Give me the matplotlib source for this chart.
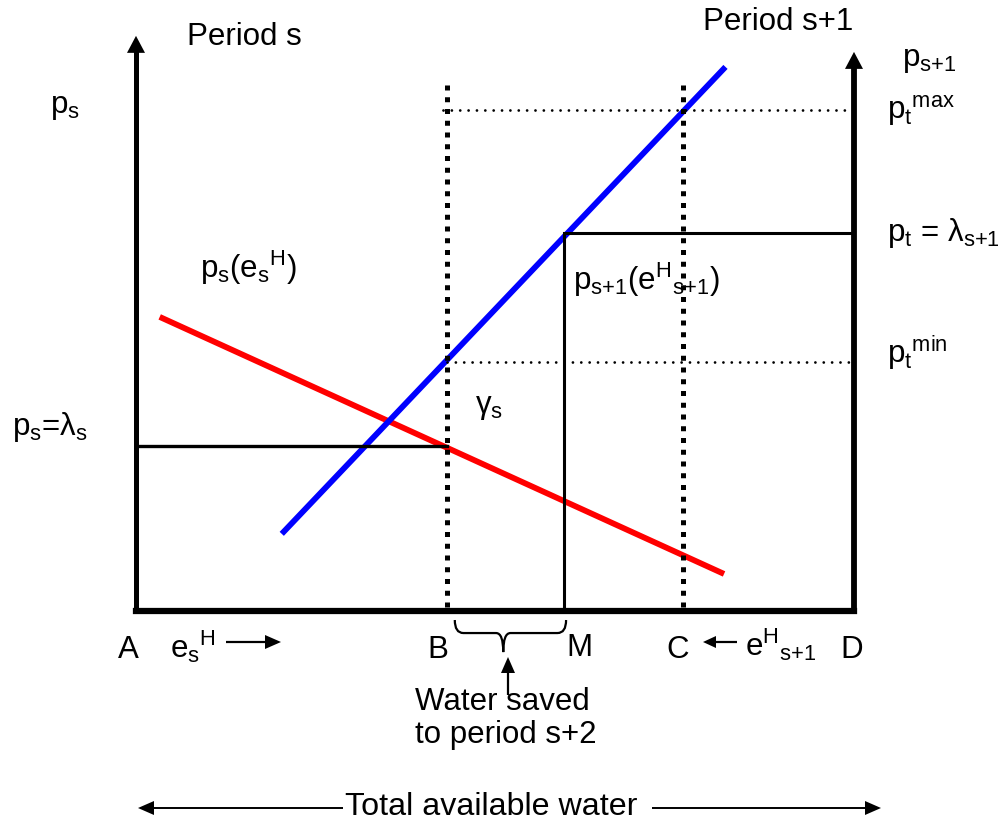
import numpy as np
import matplotlib
matplotlib.use('Agg')
import matplotlib.pyplot as plt
from matplotlib.patches import Polygon, PathPatch
from matplotlib.path import Path
from matplotlib.lines import Line2D
from matplotlib.transforms import IdentityTransform

W, H = 998, 822
plt.rcParams.update({
    'font.family': ['Liberation Sans', 'DejaVu Sans'],
    'mathtext.fontset': 'custom',
    'mathtext.rm': 'Liberation Sans',
    'mathtext.it': 'Liberation Sans',
    'mathtext.bf': 'Liberation Sans:bold',
    'mathtext.default': 'regular',
})

# ---- diagram data (water on x from A to D, price on y) ----
x_A, x_B, x_M, x_C, x_D = 0.0, 43.3, 59.6, 76.2, 100.0
p_max, p_lam_next, p_min, p_lam_s = 100.0, 75.4, 49.7, 32.9
red_x = [3.3, 81.9]     # demand p_s(e_s^H)
red_y = [58.7, 7.4]
blue_x = [20.3, 82.1]   # p_{s+1}(e^H_{s+1})
blue_y = [15.4, 108.6]
left_axis_top = 114.8
right_axis_top = 111.6
dotted_B_top = 105.4
dotted_C_top = 105.0

FS = 22.5

fig = plt.figure(figsize=(W / 100, H / 100), dpi=100)
ax = fig.add_axes([136 / W, 1 - 611 / H, (854 - 136) / W, (611 - 110) / H])
ax.set_xlim(0, 100)
ax.set_ylim(0, 100)
ax.axis('off')


def to_px(x, y):
    d = ax.transData.transform((x, y))
    return d[0], H - d[1]


def arrow_px(x0, y0, x1, y1, lw=1.5, hl=15, hw=7, color='k', zorder=5):
    d = np.array([x1 - x0, y1 - y0], float)
    L = np.hypot(*d)
    u = d / L
    n = np.array([-u[1], u[0]])
    tip = np.array([x1, y1], float)
    base = tip - u * hl
    end = tip - u * hl * 0.5
    fig.add_artist(Line2D([x0, end[0]], [H - y0, H - end[1]], lw=lw, color=color,
                          transform=IdentityTransform(), solid_capstyle='butt', zorder=zorder))
    pts = [tip, base + n * hw, base - n * hw]
    fig.add_artist(Polygon([(p[0], H - p[1]) for p in pts], closed=True, facecolor=color,
                           edgecolor='none', transform=IdentityTransform(), zorder=zorder))


def txt(x, y, s, **kw):
    fig.text(x / W, 1 - y / H, s, fontsize=kw.pop('fontsize', FS), ha=kw.pop('ha', 'left'),
             va=kw.pop('va', 'baseline'), **kw)


# ---- curves ----
ax.plot(red_x, red_y, color='#ff0000', lw=4.2, clip_on=False, zorder=2, solid_capstyle='butt')
ax.plot(blue_x, blue_y, color='#0000ff', lw=4.2, clip_on=False, zorder=2, solid_capstyle='butt')

# ---- axes ----
ax.plot([x_A, x_D], [0, 0], color='k', lw=4.5, solid_capstyle='projecting', clip_on=False, zorder=4)
x0, y0 = to_px(x_A, 0)
x1, y1 = to_px(x_A, left_axis_top)
arrow_px(x0, y0 + 2, x1, y1, lw=3.6, hl=17, hw=9)
x0, y0 = to_px(x_D, 0)
x1, y1 = to_px(x_D, right_axis_top)
arrow_px(x0, y0 + 2, x1, y1, lw=4.2, hl=17, hw=9)

# ---- thick dotted verticals ----
for xv, top in [(x_B, dotted_B_top), (x_C, dotted_C_top)]:
    ax.plot([xv, xv], [0.8, top], color='k', lw=3.6, linestyle=(0, (1, 1.35)),
            dash_capstyle='butt', clip_on=False, zorder=3)

# ---- thin dotted horizontals ----
ax.plot([x_B - 0.6, x_D], [p_max, p_max], color='k', lw=2.0, linestyle=(0, (0.01, 3.0)),
        dash_capstyle='round', clip_on=False, zorder=3)
ax.plot([x_B, x_D], [p_min, p_min], color='k', lw=2.0, linestyle=(0, (0.01, 3.0)),
        dash_capstyle='round', clip_on=False, zorder=3)

# ---- solid black price lines ----
ax.plot([x_A, x_B], [p_lam_s, p_lam_s], color='k', lw=2.4, clip_on=False, zorder=3)
ax.plot([x_D, x_M, x_M], [p_lam_next, p_lam_next, 0], color='k', lw=2.2, clip_on=False, zorder=3,
        solid_joinstyle='miter')

# ---- brace under B..M ----
bl, br = x_B + 1.1, x_M + 0.3
mid = (bl + br) / 2 - 1.0
yt, yh, yp = -1.8, -4.4, -8.2
verts = [(bl, yt), (bl, yh), (bl + 1.2, yh), (mid - 1.0, yh), (mid, yh), (mid, yp),
         (mid, yh), (mid + 1.0, yh), (br - 1.2, yh), (br, yh), (br, yt)]
codes = [Path.MOVETO, Path.CURVE3, Path.CURVE3, Path.LINETO, Path.CURVE3, Path.CURVE3,
         Path.CURVE3, Path.CURVE3, Path.LINETO, Path.CURVE3, Path.CURVE3]
ax.add_patch(PathPatch(Path(verts, codes), facecolor='none', edgecolor='k', lw=1.6, clip_on=False))

# ---- annotation arrows ----
arrow_px(508, 695, 508, 657, lw=1.6, hl=16, hw=7)
arrow_px(226, 642, 281, 642, lw=1.6, hl=16, hw=7)
arrow_px(737, 642, 703, 642, lw=1.6, hl=13, hw=6)
arrow_px(343, 808, 138, 808, lw=1.4, hl=16, hw=7)
arrow_px(652, 808, 881, 808, lw=1.4, hl=16, hw=7)

# ---- texts ----
txt(187, 45, 'Period s')
txt(703, 30, 'Period s+1')
txt(50, 113, r'$p_s$')
txt(902, 66, r'$p_{s{+}1}$')
txt(887, 119, r'$p_t{}^{max}$')
txt(887, 241, r'$p_t$ = $λ_{s{+}1}$')
txt(887, 363, r'$p_t{}^{min}$')
txt(200, 278, r'$p_s(e_s{}^H)$')
txt(573, 290, r'$p_{s{+}1}(e^H{}_{s{+}1})$')
txt(12, 435, r'$p_s$=$λ_s$')
txt(475, 413, r'$γ_s$')
txt(118, 658, 'A')
txt(170, 658, r'$e_s{}^H$')
txt(427, 658, 'B')
txt(566, 656, 'M')
txt(666, 658, 'C')
txt(745, 656, r'$e^H{}_{s{+}1}$')
txt(840, 658, 'D')
txt(415, 710, 'Water saved')
txt(415, 743, 'to period s+2')
txt(345, 815, 'Total available water', fontsize=23.2)

fig.savefig('out.png', dpi=100)
